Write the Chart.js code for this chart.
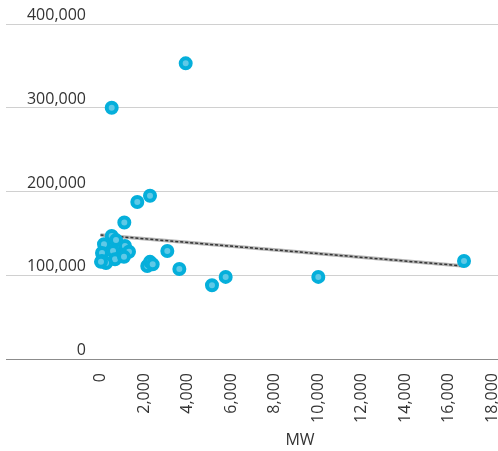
<!DOCTYPE html>
<html>
<head>
<meta charset="utf-8"/>
<style>
  html,body{margin:0;padding:0;background:#fff;}
  canvas{display:block;}
</style>
</head>
<body>
<canvas id="c" width="498" height="451"></canvas>
<script src="https://cdn.jsdelivr.net/npm/chart.js@4.4.0/dist/chart.umd.min.js"></script>
<script>
// plant capacity (MW) vs value
const mwValues = [3917, 515, 2276, 1692, 1095, 3072, 3625, 5126, 5755, 10014, 16713,
                  2150, 2276, 2400,
                  515, 161, 713, 1126, 69, 575, 989, 1310, 69, 667, 1080, 253, 23];
const yValues  = [353000, 300000, 195000, 187500, 163000, 129000, 107500, 88000, 98000, 98000, 117000,
                  111000, 116000, 113000,
                  147000, 137000, 142000, 135000, 126600, 129000, 124000, 128000, 117000, 119000, 122000, 114600, 116000];
const trendX = [0, 16713];
const trendY = [148000, 111000];
const xTicks = [0, 2000, 4000, 6000, 8000, 10000, 12000, 14000, 16000, 18000];
const yTicks = [0, 100000, 200000, 300000, 400000];

const FONT = "'Open Sans', sans-serif";
const fmt = v => v.toLocaleString("en-US");

const points = mwValues.map((x, i) => ({ x, y: yValues[i] }));
const trend  = trendX.map((x, i) => ({ x, y: trendY[i] }));

const labelsPlugin = {
  id: "labels",
  afterDraw(chart) {
    const ctx = chart.ctx, y = chart.scales.y;
    ctx.save();
    ctx.font = "16px " + FONT;
    ctx.fillStyle = "#333";
    ctx.textAlign = "right";
    ctx.textBaseline = "alphabetic";
    yTicks.forEach(v => ctx.fillText(fmt(v), 86, y.getPixelForValue(v) - 4));
    ctx.textAlign = "center";
    ctx.fillText("MW", 300, 445);
    ctx.restore();
  }
};

new Chart(document.getElementById("c"), {
  type: "scatter",
  data: {
    datasets: [
      {
        data: points,
        order: 0,
        pointRadius: 5,
        pointBorderWidth: 4,
        pointBackgroundColor: "#5fc9e7",
        pointBorderColor: "#05afdb",
        pointHoverRadius: 5
      },
      {
        type: "line",
        data: trend,
        order: 1,
        borderColor: "#333",
        borderWidth: 1.5,
        borderDash: [3, 2],
        pointRadius: 0,
        fill: false
      },
      {
        type: "line",
        data: trend,
        order: 2,
        borderColor: "#b5b5b5",
        borderWidth: 3.5,
        pointRadius: 0,
        fill: false
      }
    ]
  },
  options: {
    responsive: false,
    animation: false,
    layout: { autoPadding: false, padding: { left: 6, right: 0, top: 24, bottom: 0 } },
    plugins: { legend: { display: false }, tooltip: { enabled: false } },
    scales: {
      x: {
        type: "linear",
        min: -4345,
        max: 18276,
        afterBuildTicks: s => { s.ticks = xTicks.map(v => ({ value: v })); },
        afterFit: s => { s.height = 92; s.paddingLeft = 0; s.paddingRight = 0; },
        grid: { display: false },
        border: { display: false },
        ticks: {
          maxRotation: 90,
          minRotation: 90,
          padding: 6,
          color: "#333",
          font: { family: FONT, size: 16 },
          callback: v => fmt(v)
        }
      },
      y: {
        min: 0,
        max: 400000,
        afterBuildTicks: s => { s.ticks = yTicks.map(v => ({ value: v })); },
        afterFit: s => { s.width = 0; s.paddingTop = 0; s.paddingBottom = 0; },
        border: { display: false },
        grid: {
          drawTicks: false,
          color: c => c.tick && c.tick.value === 0 ? "#8c8c8c" : "#d0d0d0",
          lineWidth: 1
        },
        ticks: { display: false }
      }
    }
  },
  plugins: [labelsPlugin]
});
</script>
</body>
</html>
